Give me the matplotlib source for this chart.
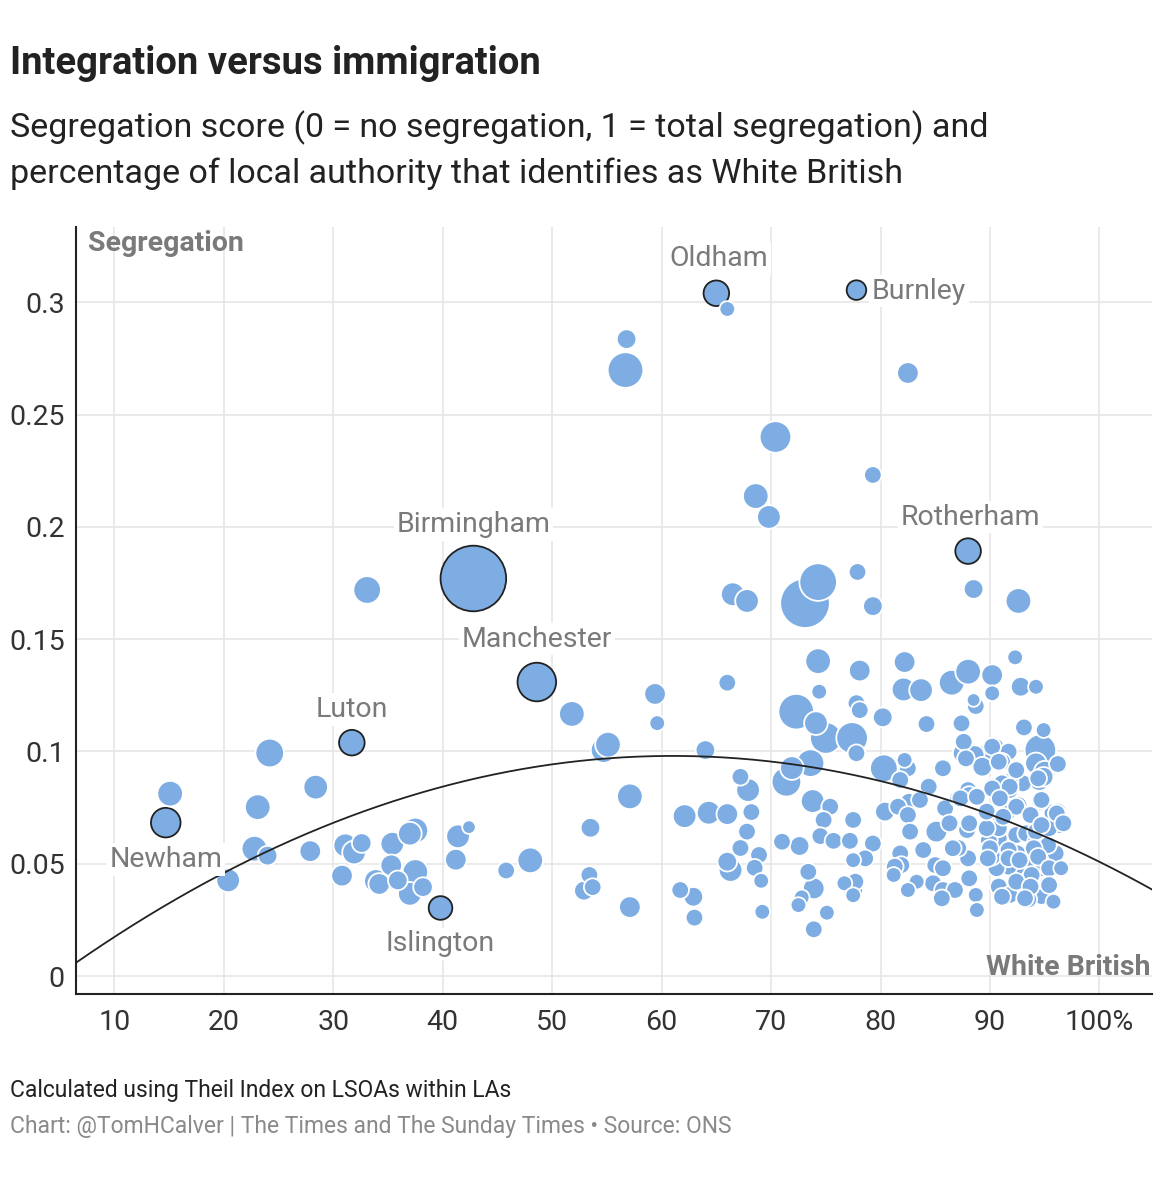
import numpy as np
import matplotlib
matplotlib.use("Agg")
import matplotlib.pyplot as plt


# ==============================
# DATA
# ==============================

# % of local authority identifying as White British
white_british = [
    14.7, 15.1, 24.2, 31.7, 28.4, 23.1, 22.8, 24.0, 20.4, 27.9,
    31.1, 31.9, 32.6, 30.8, 33.9, 34.2, 35.4, 35.3, 35.9, 37.5,
    37.0, 37.5, 37.0, 38.2, 39.8, 41.4, 42.4, 41.2, 45.8, 48.0,
    48.6, 51.8, 42.8, 33.1,
    53.5, 53.4, 52.9, 53.7, 54.7, 55.1, 57.1, 57.1, 59.4, 59.6,
    56.8, 56.7, 65.0, 66.0, 77.8, 82.5, 70.4, 79.3, 68.6, 69.8,
    88.0, 77.9, 88.5, 92.6, 79.3, 73.1, 74.3, 66.5, 67.8,
    66.0, 64.0, 74.3, 74.4, 72.3, 74.1, 75.0, 77.4, 77.8, 77.8,
    78.1, 73.6, 71.9, 71.4, 67.2, 67.9, 73.8, 75.4, 74.8, 77.5,
    62.1, 64.3, 66.0, 68.2, 67.8, 67.2, 68.9, 66.3, 66.0, 68.5,
    69.1, 71.0, 72.6, 74.5, 75.7, 77.2, 73.4, 73.9, 72.8, 72.5,
    75.1, 73.9, 69.2, 61.7, 62.9, 63.0, 76.7, 77.5, 77.5,
    82.2, 82.1, 83.7, 86.5, 88.0, 90.2, 92.3, 92.8, 94.2, 78.1,
    80.2, 84.2, 87.4, 88.7, 90.2, 88.5, 93.1, 94.9, 94.6, 96.3,
    80.3, 82.2, 82.5, 85.7, 87.6, 87.8, 89.1, 90.5, 91.7, 91.1,
    92.4, 94.2, 94.9, 93.0, 91.8, 90.2, 88.0, 84.4, 81.8,
    82.6, 80.4, 81.6, 82.5, 83.6, 85.9, 87.1, 88.1, 91.8, 94.6,
    92.6, 93.7, 96.2, 96.4, 91.5, 89.7, 90.8, 92.4, 94.2, 95.1,
    96.0, 95.3, 92.7, 91.7, 90.6, 90.2, 91.8, 90.8, 92.6, 94.7,
    95.8, 93.5, 91.8, 95.3, 87.9, 88.0, 88.1, 88.7, 88.8, 87.1,
    85.1, 86.3, 83.9, 82.7, 81.8, 81.9, 81.2, 83.3, 82.5, 85.0,
    85.7, 84.8, 85.7, 86.8, 79.3, 78.6, 77.7, 77.5, 89.8, 93.7,
    96.5, 95.8, 95.0, 94.5, 81.3, 85.6, 89.9, 93.5, 94.8, 94.7,
    91.1, 90.8, 93.3, 94.2, 95.3, 92.5,
    # hidden inside the dense cluster
    89.7, 94.2, 95.4, 86.6, 90.0, 91.7, 94.0, 89.8, 91.7, 92.7,
    94.4, 95.4, 93.8, 92.4, 93.7, 95.4, 93.2, 91.1, 87.5, 88.6,
    90.2, 96.2, 89.3, 90.8, 92.4, 94.4, 90.2, 91.8, 87.3, 88.8,
    90.9, 92.4, 96.1, 89.7, 91.2, 93.7, 96.7, 88.1, 94.7,
]

# Theil index segregation score
segregation = [
    0.0683, 0.0812, 0.0993, 0.1039, 0.0841, 0.0752, 0.0567, 0.0536, 0.0426, 0.0556,
    0.0582, 0.0550, 0.0592, 0.0447, 0.0423, 0.0410, 0.0589, 0.0493, 0.0426, 0.0648,
    0.0634, 0.0463, 0.0366, 0.0396, 0.0303, 0.0622, 0.0663, 0.0518, 0.0470, 0.0515,
    0.1309, 0.1167, 0.1770, 0.1719,
    0.0660, 0.0450, 0.0380, 0.0396, 0.1006, 0.1030, 0.0800, 0.0307, 0.1256, 0.1126,
    0.2836, 0.2698, 0.3040, 0.2970, 0.3054, 0.2685, 0.2400, 0.2231, 0.2137, 0.2044,
    0.1892, 0.1799, 0.1723, 0.1670, 0.1647, 0.1660, 0.1754, 0.1700, 0.1670,
    0.1306, 0.1006, 0.1402, 0.1266, 0.1177, 0.1126, 0.1060, 0.1060, 0.0992, 0.1215,
    0.1360, 0.0948, 0.0926, 0.0865, 0.0887, 0.0828, 0.0779, 0.0754, 0.0695, 0.0695,
    0.0712, 0.0727, 0.0721, 0.0730, 0.0643, 0.0570, 0.0539, 0.0472, 0.0509, 0.0482,
    0.0424, 0.0598, 0.0579, 0.0623, 0.0602, 0.0602, 0.0464, 0.0390, 0.0350, 0.0316,
    0.0282, 0.0208, 0.0286, 0.0383, 0.0353, 0.0260, 0.0413, 0.0383, 0.0516,
    0.1398, 0.1276, 0.1273, 0.1306, 0.1355, 0.1340, 0.1419, 0.1288, 0.1288, 0.1184,
    0.1152, 0.1122, 0.1125, 0.1202, 0.1259, 0.1229, 0.1107, 0.1095, 0.1006, 0.0939,
    0.0925, 0.0962, 0.0925, 0.0925, 0.1043, 0.0969, 0.0969, 0.1021, 0.0999, 0.0954,
    0.0910, 0.0947, 0.0887, 0.0858, 0.0865, 0.0843, 0.0828, 0.0843, 0.0873,
    0.0776, 0.0732, 0.0754, 0.0717, 0.0784, 0.0747, 0.0791, 0.0806, 0.0828, 0.0776,
    0.0761, 0.0717, 0.0732, 0.0672, 0.0724, 0.0665, 0.0613, 0.0628, 0.0576, 0.0539,
    0.0546, 0.0472, 0.0464, 0.0487, 0.0480, 0.0531, 0.0553, 0.0398, 0.0398, 0.0356,
    0.0331, 0.0341, 0.0361, 0.0413, 0.0650, 0.0524, 0.0435, 0.0361, 0.0294, 0.0570,
    0.0643, 0.0680, 0.0561, 0.0643, 0.0546, 0.0494, 0.0450, 0.0420, 0.0383, 0.0494,
    0.0480, 0.0413, 0.0383, 0.0383, 0.0590, 0.0524, 0.0420, 0.0360, 0.0672, 0.0516,
    0.0480, 0.0726, 0.0910, 0.0873, 0.0487, 0.0346, 0.0605, 0.0427, 0.0480, 0.0784,
    0.0858, 0.0658, 0.0635, 0.0598, 0.0583, 0.0546,
    0.0658, 0.0643, 0.0658, 0.0569, 0.0569, 0.0561, 0.0569, 0.0524, 0.0524, 0.0516,
    0.0531, 0.0480, 0.0450, 0.0420, 0.0398, 0.0405, 0.0346, 0.0353, 0.0992, 0.0984,
    0.1021, 0.0944, 0.0932, 0.0954, 0.0917, 0.0880, 0.0835, 0.0843, 0.0791, 0.0798,
    0.0791, 0.0754, 0.0724, 0.0732, 0.0709, 0.0717, 0.0680, 0.0680, 0.0672,
]

# population (thousands), sets bubble area
population = [
    218, 160, 203, 160, 147, 160, 160, 90, 135, 111,
    135, 135, 90, 111, 135, 111, 135, 111, 90, 160,
    135, 160, 135, 90, 135, 135, 40, 111, 71, 160,
    381, 160, 1140, 188,
    90, 71, 90, 71, 160, 160, 160, 111, 111, 55,
    90, 322, 160, 55, 90, 111, 250, 71, 160, 135,
    160, 71, 90, 160, 90, 641, 360, 135, 135,
    71, 90, 160, 55, 322, 135, 250, 250, 71, 71,
    111, 188, 135, 218, 71, 135, 135, 71, 71, 71,
    135, 135, 111, 71, 71, 71, 71, 135, 90, 71,
    55, 71, 90, 71, 71, 71, 71, 111, 55, 55,
    55, 71, 55, 71, 90, 71, 55, 90, 55,
    111, 135, 135, 160, 160, 111, 55, 90, 55, 71,
    90, 71, 71, 71, 55, 40, 71, 55, 250, 71,
    188, 55, 71, 71, 71, 71, 160, 71, 71, 71,
    90, 111, 90, 71, 71, 71, 71, 71, 71,
    71, 90, 71, 71, 71, 71, 71, 71, 71, 71,
    71, 71, 71, 71, 71, 71, 71, 71, 71, 71,
    71, 71, 71, 71, 71, 71, 71, 71, 71, 71,
    55, 71, 71, 71, 71, 71, 71, 55, 55, 71,
    111, 71, 71, 71, 71, 71, 55, 55, 55, 71,
    71, 71, 71, 71, 71, 71, 71, 55, 90, 71,
    55, 90, 111, 111, 71, 71, 71, 71, 71, 71,
    71, 71, 71, 71, 71, 71,
    71, 71, 71, 71, 71, 71, 71, 71, 71, 71,
    71, 71, 71, 71, 71, 71, 71, 71, 90, 90,
    71, 71, 90, 71, 71, 71, 71, 71, 71, 71,
    71, 71, 71, 71, 71, 71, 71, 71, 71,
]

# labelled local authorities: name -> (index into arrays, label offset in px)
labelled = {
    "Newham": (0, (0, -37)),
    "Luton": (3, (0, 33)),
    "Islington": (24, (0, -36)),
    "Manchester": (30, (0, 43)),
    "Birmingham": (32, (0, 54)),
    "Oldham": (46, (2, 35)),
    "Burnley": (48, (15, -1)),
    "Rotherham": (54, (2, 34)),
}

# quadratic trend line as drawn on the chart (a*x^2 + b*x + c)
trend_coef = [-3.1e-5, 3.782e-3, -1.735e-2]

x_ticks = [10, 20, 30, 40, 50, 60, 70, 80, 90, 100]
x_tick_labels = ["10", "20", "30", "40", "50", "60", "70", "80", "90", "100%"]
y_ticks = [0, 0.05, 0.1, 0.15, 0.2, 0.25, 0.3]
y_tick_labels = ["0", "0.05", "0.1", "0.15", "0.2", "0.25", "0.3"]


# ==============================
# STYLE
# ==============================

plt.rcParams["font.family"] = ["Roboto", "DejaVu Sans"]

W, H = 1162, 1200
BLUE = "#7dade2"
GREY = "#7a7a7a"

x = np.array(white_british)
y = np.array(segregation)
pop = np.array(population, dtype=float)

# radius in px: Birmingham ~32px (plus a bit for the white outline)
radius_px = 32 * np.sqrt(pop / 1140) + 0.8
sizes = (2 * radius_px * 0.72) ** 2

fig = plt.figure(figsize=(W / 100, H / 100), dpi=100)
ax = fig.add_axes([76 / W, 1 - 994 / H, (1152 - 76) / W, (994 - 227) / H])

ax.set_xlim(6.5, 104.8)
ax.set_ylim(-0.008, 0.3335)

ax.set_xticks(x_ticks)
ax.set_xticklabels(x_tick_labels)
ax.set_yticks(y_ticks)
ax.set_yticklabels(y_tick_labels)
ax.tick_params(length=0, labelsize=20.5, colors="#333333")
ax.tick_params(axis="y", pad=8)
ax.tick_params(axis="x", pad=11)

ax.grid(True, color="#e6e6e6", linewidth=1.2, zorder=0)
ax.set_axisbelow(True)
for side in ["top", "right"]:
    ax.spines[side].set_visible(False)
for side in ["left", "bottom"]:
    ax.spines[side].set_color("#222222")
    ax.spines[side].set_linewidth(1.5)


# ==============================
# BUBBLES
# ==============================

order = np.argsort(-pop, kind="stable")
highlight = [v[0] for v in labelled.values()]
edge = np.array(["white"] * len(x), dtype=object)
edge[highlight] = "#222222"

ax.scatter(x[order], y[order], s=sizes[order], c=BLUE,
           edgecolors=list(edge[order]), linewidths=1.3, zorder=3)

xs = np.linspace(6.5, 104.8, 300)
ax.plot(xs, np.polyval(trend_coef, xs), color="#222222", linewidth=1.3, zorder=4)

# labels
for name, (i, off) in labelled.items():
    ha = "left" if off[0] > 5 else "center"
    ax.annotate(name, (x[i], y[i]), xytext=off, textcoords="offset pixels",
                ha=ha, va="center", fontsize=20.5, color=GREY, zorder=5,
                bbox=dict(boxstyle="square,pad=0.1", fc="white", ec="none"))

ax.text(0.011, 0.978, "Segregation", transform=ax.transAxes, ha="left",
        va="center", fontsize=20.5, fontweight="bold", color=GREY)
ax.text(0.999, 0.035, "White British", transform=ax.transAxes, ha="right",
        va="center", fontsize=20.5, fontweight="bold", color=GREY)


# ==============================
# TITLES / FOOTER
# ==============================

fig.text(10 / W, 1 - 64 / H, "Integration versus immigration", ha="left",
         va="center", fontsize=27.5, fontweight="bold", color="#222222")
fig.text(10 / W, 1 - 128 / H,
         "Segregation score (0 = no segregation, 1 = total segregation) and",
         ha="left", va="center", fontsize=24.5, color="#222222")
fig.text(10 / W, 1 - 174 / H,
         "percentage of local authority that identifies as White British",
         ha="left", va="center", fontsize=24.5, color="#222222")

fig.text(10 / W, 1 - 1090 / H, "Calculated using Theil Index on LSOAs within LAs",
         ha="left", va="center", fontsize=16.5, color="#222222")
fig.text(10 / W, 1 - 1127 / H,
         "Chart: @TomHCalver | The Times and The Sunday Times \u2022 Source: ONS",
         ha="left", va="center", fontsize=16.5, color="#8a8a8a")

fig.savefig("out.png", dpi=100, facecolor="white")
